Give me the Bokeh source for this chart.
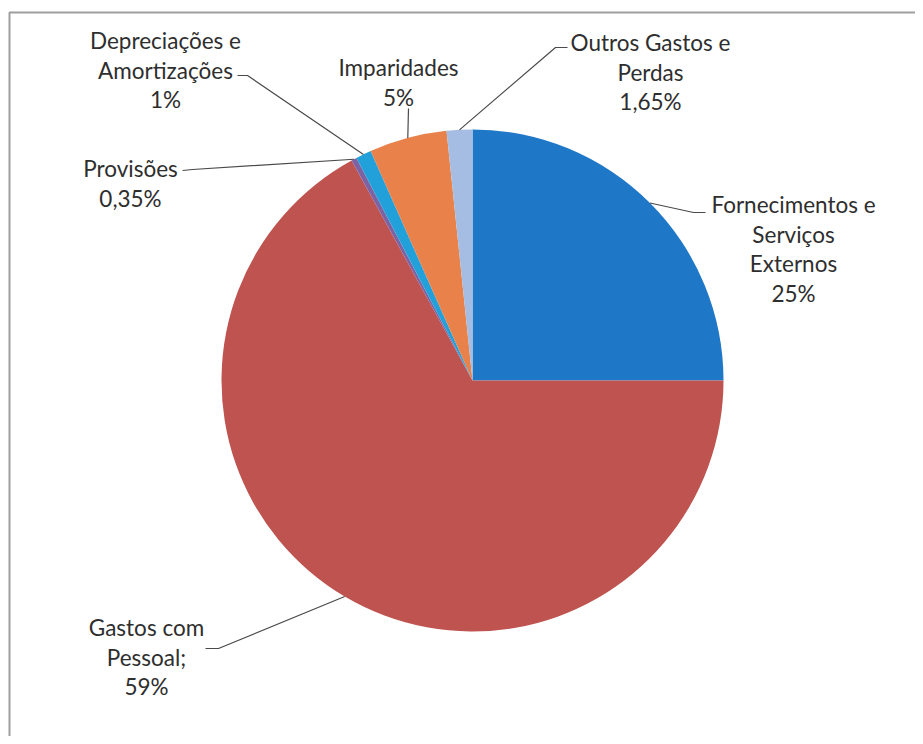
import math
from bokeh.plotting import figure
from bokeh.models import Range1d, ColumnDataSource
from bokeh.core.properties import value
from bokeh.embed import file_html
from bokeh.resources import INLINE

# ---- data ----
categories = ["Fornecimentos e Serviços Externos", "Gastos com Pessoal",
              "Provisões", "Depreciações e Amortizações", "Imparidades",
              "Outros Gastos e Perdas"]
values = [25, 67, 0.35, 1, 5, 1.65]          # slice sizes as drawn
label_lines = [["Fornecimentos e", "Serviços", "Externos", "25%"],
               ["Gastos com", "Pessoal;", "59%"],
               ["Provisões", "0,35%"],
               ["Depreciações e", "Amortizações", "1%"],
               ["Imparidades", "5%"],
               ["Outros Gastos e", "Perdas", "1,65%"]]
colors = ["#1E77C7", "#BE534F", "#7E63A3", "#22A0DA", "#E8824A", "#A5BDE2"]

# ---- layout (pixels) ----
W, H = 915, 736
def X(px): return px
def Y(py): return H - py

cx, cy, R = X(472), Y(380), 251
label_center = [(793, 204), (146, 627), (130, 168), (165, 40), (398, 67), (650, 42)]
leader_end = [(705, 212), (205, 648), (182, 170), (237, 75), (408, 108), (567, 47)]
leader_elbow = [(693, 212), (218, 648), (192, 169), (247, 75), (408, 108), (555, 47)]
line_step = 29.5

p = figure(width=W, height=H, output_backend="svg", toolbar_location=None,
           x_range=Range1d(0, W), y_range=Range1d(0, H),
           x_axis_location=None, y_axis_location=None, min_border=0)
p.grid.visible = False
p.outline_line_color = None
p.background_fill_color = "white"

# frame border (chart area box)
p.line(x=[X(9), X(9), X(960)], y=[Y(800), Y(12), Y(12)], line_color="#9E9E9E", line_width=2)

total = sum(values)
starts, ends, mids = [], [], []
cum = 0.0
for v in values:
    a0 = math.pi / 2 - 2 * math.pi * cum / total
    cum += v
    a1 = math.pi / 2 - 2 * math.pi * cum / total
    starts.append(a0); ends.append(a1); mids.append((a0 + a1) / 2)

src = ColumnDataSource(dict(start=starts, end=ends, color=colors, cat=categories))
p.wedge(x=cx, y=cy, radius=R, start_angle="start", end_angle="end",
        direction="clock", fill_color="color", line_color=None, source=src)

# leader lines
xs, ys = [], []
for m, e, b in zip(mids, leader_end, leader_elbow):
    px = cx + R * math.cos(m)
    py = cy + R * math.sin(m)
    xs.append([X(e[0]), X(b[0]), px])
    ys.append([Y(e[1]), Y(b[1]), py])
p.multi_line(xs=xs, ys=ys, line_color="#4A4A4A", line_width=1.2)

# labels
tx, ty, tt = [], [], []
for lines, (lx, ly) in zip(label_lines, label_center):
    for i, t in enumerate(lines):
        tx.append(X(lx)); ty.append(Y(ly + i * line_step)); tt.append(t)
p.text(x=tx, y=ty, text=tt, text_align="center", text_baseline="middle",
       text_font=value("Lato"), text_font_size="22.5px", text_color="#2E2E2E")

open("out.html", "w").write(file_html(p, INLINE))
